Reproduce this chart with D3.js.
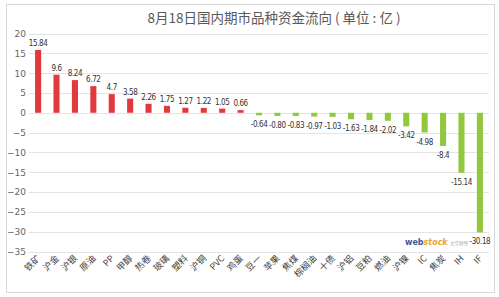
<!DOCTYPE html>
<html>
<head>
<meta charset="UTF-8">
<style>
  body { margin: 0; background: #fff; }
  svg { display: block; font-family: "Noto Sans CJK SC", "DejaVu Sans", sans-serif; }
</style>
</head>
<body>
<svg></svg>
<script src="https://d3js.org/d3.v7.min.js"></script>
<script>
const categories = ["铁矿", "沪金", "沪银", "原油", "PP", "甲醇", "热卷", "玻璃", "塑料", "沪铜", "PVC", "鸡蛋",
  "豆一", "苹果", "焦煤", "棕榈油", "十债", "沪铝", "豆粕", "燃油", "沪镍", "IC", "焦炭", "IH", "IF"];
const flows = [15.84, 9.6, 8.24, 6.72, 4.7, 3.58, 2.26, 1.75, 1.27, 1.22, 1.05, 0.66,
  -0.64, -0.80, -0.83, -0.97, -1.03, -1.63, -1.84, -2.02, -3.42, -4.98, -8.4, -15.14, -30.18];
const valueLabels = ["15.84", "9.6", "8.24", "6.72", "4.7", "3.58", "2.26", "1.75", "1.27", "1.22", "1.05", "0.66",
  "-0.64", "-0.80", "-0.83", "-0.97", "-1.03", "-1.63", "-1.84", "-2.02", "-3.42", "-4.98", "-8.4", "-15.14", "-30.18"];
const yTicks = [20, 15, 10, 5, 0, -5, -10, -15, -20, -25, -30, -35];

const width = 499, height = 297;
const svg = d3.select("svg").attr("width", width).attr("height", height);

// outer frame
svg.append("rect")
  .attr("x", 6.5).attr("y", 4.5).attr("width", 488).attr("height", 288)
  .attr("fill", "none").attr("stroke", "#d9d9d9");

svg.append("text")
  .attr("x", 274).attr("y", 23)
  .attr("text-anchor", "middle")
  .attr("font-size", 13.5)
  .attr("fill", "#595959")
  .text("8月18日国内期市品种资金流向 ( 单位 : 亿 )");

const x = d3.scaleBand().domain(categories).range([29, 489]).paddingInner(0.67).paddingOuter(0.33);
const y = d3.scaleLinear().domain([-35, 20]).range([251.5, 33.5]);

// gridlines + y labels
const yAxis = svg.append("g")
  .call(d3.axisLeft(y).tickValues(yTicks).tickSize(0).tickPadding(6));
yAxis.select(".domain").remove();
yAxis.selectAll("text").attr("x", 26).attr("text-anchor", "end")
  .attr("font-size", 9).attr("fill", "#666").attr("font-family", "DejaVu Sans, sans-serif");
svg.append("g").selectAll("line").data(yTicks).join("line")
  .attr("x1", 29).attr("x2", 489)
  .attr("y1", d => Math.round(y(d)) + 0.5).attr("y2", d => Math.round(y(d)) + 0.5)
  .attr("stroke", "#e4e4e4");

// bars
svg.append("g").selectAll("rect").data(flows).join("rect")
  .attr("x", (d, i) => x(categories[i]))
  .attr("width", x.bandwidth())
  .attr("y", d => y(Math.max(0, d)))
  .attr("height", d => Math.abs(y(d) - y(0)))
  .attr("fill", d => d >= 0 ? "#e2393f" : "#92c83e");

// value labels
svg.append("g").selectAll("text").data(flows).join("text")
  .attr("x", (d, i) => x(categories[i]) + x.bandwidth() / 2)
  .attr("y", d => d >= 0 ? y(d) - 4 : y(d) + 12)
  .attr("text-anchor", "middle")
  .attr("font-size", 8)
  .attr("fill", "#333")
  .attr("font-family", "DejaVu Sans Condensed, DejaVu Sans, sans-serif")
  .attr("letter-spacing", -0.4)
  .text((d, i) => valueLabels[i]);

// category labels
svg.append("g").selectAll("text").data(categories).join("text")
  .attr("transform", d => `translate(${x(d) + x.bandwidth() / 2 + 3},${259}) rotate(-45)`)
  .attr("text-anchor", "end")
  .attr("font-size", 9)
  .attr("fill", "#404040")
  .text(d => d);

// watermark
const wm = svg.append("text").attr("x", 405).attr("y", 245)
  .attr("font-size", 8).attr("font-weight", "bold").attr("font-family", "DejaVu Sans, sans-serif");
wm.append("tspan").attr("fill", "#3a5a9a").text("web");
wm.append("tspan").attr("fill", "#e8a23a").attr("font-style", "italic").text("stock");
svg.append("text").attr("x", 450).attr("y", 245)
  .attr("font-size", 4.5).attr("fill", "#aaa").text("文华财经");
</script>
</body>
</html>
